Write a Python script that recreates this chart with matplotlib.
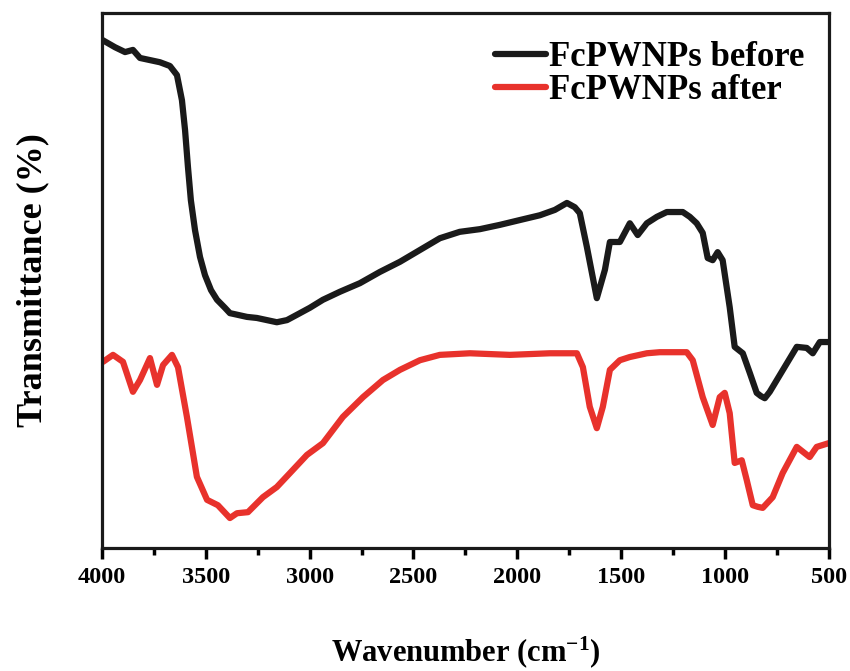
import matplotlib.pyplot as plt
from matplotlib.ticker import MultipleLocator

# FTIR spectra (wavenumber in cm-1, transmittance in arb. units)
wn_before = [4000, 3937, 3889, 3851, 3817, 3769, 3721, 3673, 3639, 3615, 3600, 3586,
             3572, 3552, 3528, 3504, 3475, 3446, 3408, 3384, 3360, 3302, 3254, 3206,
             3158, 3109, 3061, 2999, 2936, 2854, 2758, 2662, 2565, 2469, 2373, 2277,
             2180, 2084, 1988, 1891, 1819, 1761, 1723, 1699, 1665, 1617, 1578, 1554,
             1506, 1458, 1420, 1376, 1328, 1280, 1203, 1169, 1136, 1107, 1083, 1059,
             1035, 1011, 977, 953, 914, 880, 847, 827, 808, 784, 750, 654, 606, 577,
             543, 500]
t_before = [95.0, 93.6, 92.7, 93.1, 91.6, 91.2, 90.8, 90.1, 88.4, 83.7, 78.1, 71.2,
            65.0, 59.4, 54.4, 51.0, 48.2, 46.4, 44.9, 43.9, 43.7, 43.2, 43.0, 42.6,
            42.2, 42.6, 43.6, 44.9, 46.4, 47.9, 49.5, 51.6, 53.5, 55.7, 57.9, 59.1,
            59.6, 60.4, 61.3, 62.2, 63.2, 64.5, 63.7, 62.6, 56.3, 46.7, 52.0, 57.2,
            57.2, 60.7, 58.5, 60.7, 61.9, 62.8, 62.8, 61.9, 60.7, 58.9, 54.2, 53.8,
            55.3, 53.8, 45.0, 37.6, 36.4, 32.7, 29.0, 28.4, 28.0, 29.2, 31.4, 37.6,
            37.4, 36.4, 38.5, 38.5]

wn_after = [3995, 3947, 3899, 3851, 3817, 3769, 3735, 3706, 3663, 3634, 3591, 3543,
            3494, 3442, 3384, 3350, 3297, 3225, 3158, 3095, 3013, 2936, 2840, 2743,
            2647, 2565, 2469, 2373, 2228, 2036, 1843, 1713, 1684, 1651, 1617, 1588,
            1554, 1506, 1458, 1376, 1314, 1184, 1155, 1107, 1059, 1025, 1001, 977,
            953, 919, 895, 866, 842, 818, 770, 722, 654, 592, 558, 500]
t_after = [34.8, 36.1, 34.8, 29.2, 31.4, 35.5, 30.5, 34.2, 36.1, 33.8, 24.5, 13.3,
           9.0, 8.0, 5.6, 6.5, 6.7, 9.5, 11.4, 14.0, 17.4, 19.6, 24.5, 28.2,
           31.4, 33.3, 35.1, 36.1, 36.4, 36.1, 36.4, 36.4, 33.8, 26.4, 22.4, 26.4,
           33.3, 35.1, 35.7, 36.4, 36.6, 36.6, 35.1, 28.2, 23.0, 28.2, 29.0, 25.2,
           15.9, 16.4, 12.7, 8.0, 7.7, 7.5, 9.5, 14.0, 18.9, 17.0, 18.9, 19.6]

plt.rcParams['font.family'] = ['Liberation Serif', 'DejaVu Serif']
plt.rcParams['font.weight'] = 'bold'
plt.rcParams['mathtext.fontset'] = 'custom'
plt.rcParams['mathtext.rm'] = 'Liberation Serif:bold'
plt.rcParams['mathtext.it'] = 'Liberation Serif:bold'

fig = plt.figure(figsize=(8.5, 6.71), dpi=100)
ax = fig.add_axes([0.12, 0.1833, 0.855, 0.7973])

ax.plot(wn_before, t_before, color='#1a1a1a', lw=4.5, solid_capstyle='round',
        solid_joinstyle='round', label='FcPWNPs before')
ax.plot(wn_after, t_after, color='#e8322c', lw=4.5, solid_capstyle='round',
        solid_joinstyle='round', label='FcPWNPs after')

ax.set_xlim(4000, 500)
ax.set_ylim(0, 100)
ax.xaxis.set_major_locator(MultipleLocator(500))
ax.xaxis.set_minor_locator(MultipleLocator(250))
ax.set_yticks([])
ax.tick_params(axis='x', which='major', direction='out', length=8, width=2.5,
               labelsize=17.5, pad=6)
ax.tick_params(axis='x', which='minor', direction='out', length=5, width=2.5)
for s in ax.spines.values():
    s.set_linewidth(2.3)
    s.set_color('#1a1a1a')

ax.set_xlabel('Wavenumber (cm$^{\\mathregular{-1}}$)', fontsize=22, fontweight='bold', labelpad=33)
ax.set_ylabel('Transmittance (%)', fontsize=26, fontweight='bold', labelpad=38)

ax.legend(loc='upper right', bbox_to_anchor=(1.0, 0.993), frameon=False, fontsize=25,
          handlelength=1.45, handletextpad=0.1, labelspacing=0.0, borderaxespad=0.3)

fig.savefig('out.png', dpi=100)
